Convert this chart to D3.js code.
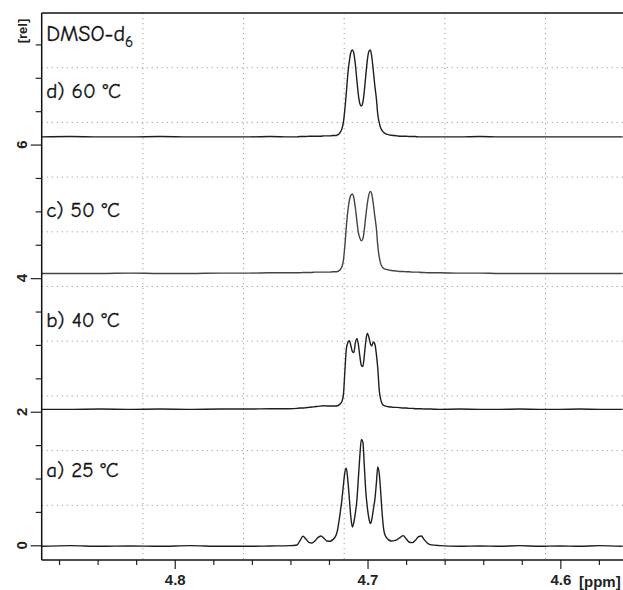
<!DOCTYPE html>
<html>
<head>
<meta charset="utf-8">
<script src="https://cdn.jsdelivr.net/npm/d3@7"></script>
<style>
  body { margin: 0; background: #fff; }
  .tick text { font-family: "Liberation Sans", Arial, sans-serif; font-weight: bold; }
</style>
</head>
<body>
<div id="spectrum"></div>
<script>
// chemical shift grid (ppm), shared by all four traces
var ppm = [4.8689, 4.8542, 4.8387, 4.8232, 4.8076, 4.7921, 4.7765, 4.7610, 4.7506, 4.7403,
  4.7366, 4.7351, 4.7335, 4.7320, 4.7304, 4.7289, 4.7273, 4.7258, 4.7242, 4.7226, 4.7211, 4.7195, 4.7180, 4.7164,
  4.7156, 4.7149, 4.7141, 4.7133, 4.7125, 4.7118, 4.7110, 4.7102, 4.7094, 4.7087,
  4.7079, 4.7071, 4.7063, 4.7055, 4.7048, 4.7040, 4.7032, 4.7024, 4.7017, 4.7009,
  4.7001, 4.6993, 4.6985, 4.6978, 4.6970, 4.6962, 4.6954, 4.6947, 4.6939, 4.6931,
  4.6923, 4.6916, 4.6908,
  4.6892, 4.6877, 4.6861, 4.6846, 4.6830, 4.6815, 4.6799, 4.6783, 4.6768, 4.6752, 4.6737, 4.6721, 4.6706, 4.6690, 4.6675,
  4.6625, 4.6522, 4.6418, 4.6314, 4.6211, 4.6107, 4.6004, 4.5900, 4.5796, 4.5677];

// intensities above each trace's own baseline [rel]
var spec25 = [0, 0.01, 0, 0.005, 0, 0.01, 0, 0, 0.005, 0.01,
  0.02, 0.08, 0.15, 0.11, 0.06, 0.05, 0.08, 0.13, 0.155, 0.12, 0.08, 0.075, 0.10, 0.16,
  0.24, 0.36, 0.52, 0.70, 0.92, 1.10, 1.17, 0.98, 0.70, 0.45,
  0.29, 0.36, 0.50, 0.70, 1.00, 1.35, 1.60, 1.56, 1.22, 0.82,
  0.58, 0.42, 0.34, 0.40, 0.55, 0.70, 0.95, 1.19, 1.08, 0.78,
  0.45, 0.25, 0.16,
  0.10, 0.08, 0.085, 0.10, 0.135, 0.16, 0.11, 0.06, 0.055, 0.09, 0.14, 0.155, 0.10, 0.05, 0.025,
  0.01, 0, 0.005, 0, 0.01, 0, 0.005, 0, 0.01, 0];

var spec40 = [0, 0, 0.005, 0, 0.005, 0, 0.005, 0.005, 0.01, 0.01,
  0.015, 0.02, 0.02, 0.025, 0.03, 0.035, 0.04, 0.045, 0.05, 0.055, 0.05, 0.05, 0.05, 0.05,
  0.055, 0.065, 0.085, 0.12, 0.22, 0.55, 0.90, 1.00, 1.03, 0.96,
  0.87, 0.85, 1.00, 1.06, 0.98, 0.80, 0.66, 0.64, 0.80, 1.02,
  1.14, 1.08, 0.98, 0.95, 1.01, 0.98, 0.82, 0.62, 0.28, 0.14,
  0.08, 0.06, 0.05,
  0.04, 0.035, 0.03, 0.03, 0.025, 0.02, 0.02, 0.015, 0.015, 0.01, 0.01, 0.01, 0.005, 0.005, 0.005,
  0, 0.005, 0, 0, 0.005, 0, 0, 0.005, 0, 0];

var spec50 = [0, 0, 0, 0.005, 0, 0, 0.005, 0.005, 0.01, 0.01,
  0.01, 0.01, 0.015, 0.015, 0.015, 0.015, 0.02, 0.02, 0.02, 0.02, 0.02, 0.02, 0.025, 0.025,
  0.03, 0.04, 0.06, 0.10, 0.20, 0.40, 0.70, 0.94, 1.10, 1.17,
  1.19, 1.13, 0.98, 0.78, 0.62, 0.53, 0.49, 0.52, 0.65, 0.86,
  1.05, 1.18, 1.23, 1.19, 1.04, 0.85, 0.67, 0.42, 0.24, 0.14,
  0.095, 0.075, 0.065,
  0.055, 0.045, 0.04, 0.035, 0.03, 0.03, 0.025, 0.025, 0.02, 0.02, 0.02, 0.015, 0.015, 0.01, 0.01,
  0.01, 0.005, 0.005, 0, 0, 0, 0, 0, 0, 0];

var spec60 = [0, 0.005, 0, 0, 0.005, 0, 0, 0, 0.005, 0,
  0, 0.005, 0.005, 0.005, 0.01, 0.01, 0.01, 0.01, 0.01, 0.015, 0.015, 0.015, 0.02, 0.02,
  0.03, 0.04, 0.07, 0.12, 0.22, 0.40, 0.66, 0.95, 1.14, 1.26,
  1.30, 1.25, 1.08, 0.84, 0.64, 0.50, 0.46, 0.52, 0.68, 0.92,
  1.15, 1.28, 1.30, 1.20, 0.99, 0.76, 0.57, 0.34, 0.21, 0.13,
  0.09, 0.065, 0.05,
  0.035, 0.025, 0.02, 0.015, 0.01, 0.01, 0.01, 0.005, 0.005, 0.005, 0, 0, 0, 0, 0,
  0, 0, 0.005, 0, 0, 0, 0, 0, 0, 0];

var traces = [spec25, spec40, spec50, spec60];
var offsets = [-0.015, 2.035, 4.07, 6.115];
var tempLabels = ['a) 25 °C', 'b) 40 °C', 'c) 50 °C', 'd) 60 °C'];

var xMajorTicks = [4.8, 4.7, 4.6];
var xMinorTicks = [4.86, 4.84, 4.82, 4.78, 4.76, 4.74, 4.72, 4.68, 4.66, 4.64, 4.62, 4.58];
var yMajorTicks = [0, 2, 4, 6];
var yMinorTicks = [0.5, 1, 1.5, 2.5, 3, 3.5, 4.5, 5, 5.5, 6.5, 7, 7.5];
var gridPpm = [4.8165, 4.7643, 4.7121, 4.6599, 4.6077];

var svgWidth = 623;
var svgHeight = 590;
var plot = { left: 41.7, right: 623, top: 13, bottom: 560 };

var svg = d3.select('#spectrum')
  .append('svg')
  .attr('width', svgWidth)
  .attr('height', svgHeight);

var xScale = d3.scaleLinear()
  .domain([4.869, 4.5675])
  .range([plot.left, plot.right]);

var yScale = d3.scaleLinear()
  .domain([-0.22, 7.97])
  .range([plot.bottom, plot.top]);

svg.append('clipPath').attr('id', 'clip')
  .append('rect')
  .attr('x', plot.left).attr('y', plot.top)
  .attr('width', plot.right - plot.left).attr('height', plot.bottom - plot.top);

// dotted grid: 10 rows over the height, fixed ppm columns
var yd = yScale.domain();
var gridRel = d3.range(1, 10).map(k => yd[0] + k * (yd[1] - yd[0]) / 10);

var grid = svg.append('g')
  .attr('stroke', '#a0a0a0')
  .attr('stroke-width', 1)
  .attr('stroke-dasharray', '1.2,3.8');

grid.selectAll('.hgrid')
  .data(gridRel)
  .enter()
  .append('line')
  .attr('x1', plot.left).attr('x2', plot.right)
  .attr('y1', d => yScale(d)).attr('y2', d => yScale(d));

grid.selectAll('.vgrid')
  .data(gridPpm)
  .enter()
  .append('line')
  .attr('x1', d => xScale(d)).attr('x2', d => xScale(d))
  .attr('y1', plot.top).attr('y2', plot.bottom);

// spectra
var chartGroup = svg.append('g').attr('clip-path', 'url(#clip)');

traces.forEach(function(trace, i) {
  var line = d3.line()
    .x((d, j) => xScale(ppm[j]))
    .y(d => yScale(offsets[i] + d))
    .curve(d3.curveMonotoneX);

  chartGroup.append('path')
    .datum(trace)
    .attr('fill', 'none')
    .attr('stroke', i === 2 ? '#444' : '#1e1e1e')
    .attr('stroke-width', 1.4)
    .attr('d', line);
});

// x axis
var xMajor = d3.axisBottom(xScale)
  .tickValues(xMajorTicks)
  .tickSize(9)
  .tickPadding(5)
  .tickFormat(d3.format('.1f'));

var xMinor = d3.axisBottom(xScale)
  .tickValues(xMinorTicks)
  .tickSize(5)
  .tickFormat('');

svg.append('g')
  .attr('transform', `translate(0, ${plot.bottom})`)
  .call(xMinor)
  .call(g => g.select('.domain').remove())
  .selectAll('line').attr('stroke', '#222').attr('stroke-width', 1.2);

svg.append('g')
  .attr('class', 'x-axis')
  .attr('transform', `translate(0, ${plot.bottom})`)
  .call(xMajor)
  .call(g => g.select('.domain').remove())
  .call(g => g.selectAll('line').attr('stroke', '#222').attr('stroke-width', 1.2))
  .call(g => g.selectAll('text').attr('font-size', 15).attr('fill', '#222'));

svg.append('text')
  .attr('x', 579)
  .attr('y', 587)
  .attr('font-family', '"Liberation Sans", Arial, sans-serif')
  .attr('font-weight', 'bold')
  .attr('font-size', 15)
  .attr('fill', '#222')
  .text('[ppm]');

// y axis
var yMajor = d3.axisLeft(yScale)
  .tickValues(yMajorTicks)
  .tickSize(11)
  .tickFormat('');

var yMinor = d3.axisLeft(yScale)
  .tickValues(yMinorTicks)
  .tickSize(6)
  .tickFormat('');

[yMajor, yMinor].forEach(function(ax) {
  svg.append('g')
    .attr('transform', `translate(${plot.left}, 0)`)
    .call(ax)
    .call(g => g.select('.domain').remove())
    .selectAll('line').attr('stroke', '#222').attr('stroke-width', 1.2);
});

svg.selectAll('.ylab')
  .data(yMajorTicks)
  .enter()
  .append('text')
  .attr('transform', d => `translate(22, ${yScale(d)}) rotate(-90)`)
  .attr('text-anchor', 'middle')
  .attr('dy', '0.35em')
  .attr('font-family', '"Liberation Sans", Arial, sans-serif')
  .attr('font-weight', 'bold')
  .attr('font-size', 15)
  .attr('fill', '#222')
  .text(d => d);

svg.append('text')
  .attr('transform', 'translate(22, 31) rotate(-90)')
  .attr('text-anchor', 'middle')
  .attr('dy', '0.35em')
  .attr('font-family', '"Liberation Sans", Arial, sans-serif')
  .attr('font-weight', 'bold')
  .attr('font-size', 13)
  .attr('fill', '#222')
  .text('[rel]');

// frame lines: left axis, bottom axis, top edge
var frame = svg.append('g').attr('stroke', '#111').attr('stroke-width', 1.5);
frame.append('line').attr('x1', plot.left).attr('x2', plot.left).attr('y1', plot.top).attr('y2', plot.bottom);
frame.append('line').attr('x1', plot.left).attr('x2', plot.right).attr('y1', plot.bottom).attr('y2', plot.bottom);
frame.append('line').attr('x1', plot.left).attr('x2', plot.right).attr('y1', plot.top).attr('y2', plot.top);

// annotations
var labelFont = '"Comic Sans MS", "Comic Neue", Lato, sans-serif';
var labelAt = [1.02, 3.27, 4.91, 6.69];
var labelPpm = 4.8667;

svg.selectAll('.temp')
  .data(tempLabels)
  .enter()
  .append('text')
  .attr('x', xScale(labelPpm))
  .attr('y', (d, i) => yScale(labelAt[i]))
  .attr('font-family', labelFont)
  .attr('font-size', 21)
  .attr('fill', '#111')
  .attr('stroke', '#111')
  .attr('stroke-width', 0.3)
  .text(d => d);

var solvent = svg.append('text')
  .attr('x', xScale(labelPpm))
  .attr('y', yScale(7.55))
  .attr('font-family', labelFont)
  .attr('font-size', 22)
  .attr('fill', '#111')
  .attr('stroke', '#111')
  .attr('stroke-width', 0.3);
solvent.append('tspan').text('DMSO-d');
solvent.append('tspan').attr('dy', 6).attr('font-size', 15).text('6');
</script>
</body>
</html>
